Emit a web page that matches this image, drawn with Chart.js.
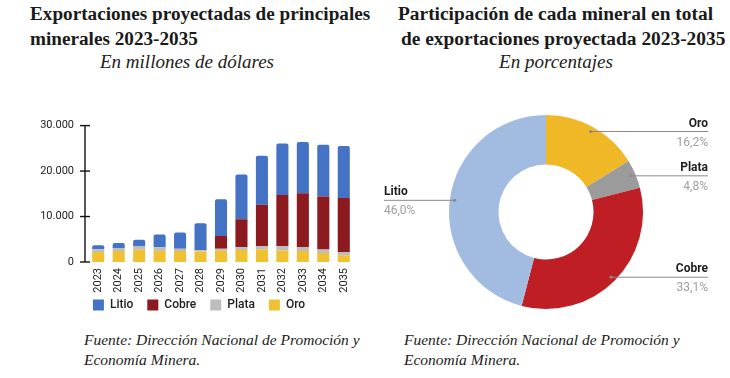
<!DOCTYPE html>
<html>
<head>
<meta charset="utf-8">
<script src="https://cdn.jsdelivr.net/npm/chart.js@4.4.1/dist/chart.umd.min.js"></script>
<style>
  html,body{margin:0;padding:0;background:#fff;}
  body{width:730px;height:378px;position:relative;overflow:hidden;}
  .t{position:absolute;white-space:nowrap;color:#1a1a1a;font-family:"Liberation Serif",serif;}
  .title{font-weight:bold;line-height:25px;}
  .sub{font-style:italic;font-size:19px;line-height:20px;color:#222;transform:translateX(-50%);}
  .foot{font-style:italic;font-size:15.5px;line-height:20px;color:#222;}
  #barWrap{position:absolute;left:0;top:105px;width:365px;height:220px;}
  #pieWrap{position:absolute;left:370px;top:90px;width:360px;height:240px;}
</style>
</head>
<body>
<div class="t title" style="left:30px;top:1px;font-size:19.2px;">Exportaciones proyectadas de principales<br>minerales 2023-2035</div>
<div class="t sub" style="left:187px;top:52px;">En millones de dólares</div>
<div class="t title" style="left:398px;top:1px;font-size:19.4px;">Participación de cada mineral en total</div>
<div class="t title" style="left:401px;top:26px;font-size:19.4px;">de exportaciones proyectada 2023-2035</div>
<div class="t sub" style="left:556px;top:52px;">En porcentajes</div>
<div class="t foot" style="left:84px;top:330px;">Fuente: Dirección Nacional de Promoción y<br>Economía Minera.</div>
<div class="t foot" style="left:404px;top:330px;">Fuente: Dirección Nacional de Promoción y<br>Economía Minera.</div>
<div id="barWrap"><canvas id="bar"></canvas></div>
<div id="pieWrap"><canvas id="pie"></canvas></div>
<script>
// ---- Data ----
const years = ['2023','2024','2025','2026','2027','2028','2029','2030','2031','2032','2033','2034','2035'];
const litio = [900,1100,1400,2800,3600,5900,8100,9850,10750,11300,11300,11400,11450];
const cobre = [0,0,0,0,0,0,2800,6150,9150,11250,11800,11650,11850];
const plata = [600,700,800,800,500,300,400,600,700,950,900,750,700];
const oro   = [2200,2400,2700,2450,2400,2300,2500,2650,2750,2550,2400,2000,1500];
const yTicks = [0,10000,20000,30000];

const shareLabels = ['Oro','Plata','Cobre','Litio'];
const shareValues = [16.2,4.8,33.1,46.0];

// ---- Styles ----
const barColors = {Litio:'#4472C4', Cobre:'#8C1A1E', Plata:'#BDBDBD', Oro:'#F0C232'};
const pieColors = ['#F0B726','#9B9B9B','#BF1E25','#A2BBE1'];

function fmtThousands(v){
  return String(v).replace(/\B(?=(\d{3})+(?!\d))/g,'.');
}
function noLabelClip(s){ s._computeLabelArea = function(){ return undefined; }; }

const axisPlugin = {
  id:'axisPlugin',
  afterDraw(chart){
    const y = chart.scales.y, ctx = chart.ctx;
    const x = chart.chartArea.left - 3;
    ctx.save();
    ctx.strokeStyle = '#111';
    ctx.lineWidth = 1.4;
    ctx.beginPath();
    ctx.moveTo(x, y.getPixelForValue(yTicks[yTicks.length-1]));
    ctx.lineTo(x, y.getPixelForValue(0));
    ctx.stroke();
    yTicks.forEach(v=>{
      const py = y.getPixelForValue(v);
      ctx.beginPath();
      ctx.moveTo(x-5, py);
      ctx.lineTo(x+5, py);
      ctx.stroke();
    });
    ctx.restore();
  }
};

new Chart(document.getElementById('bar'), {
  type:'bar',
  data:{
    labels: years,
    datasets:[
      {label:'Oro', data:oro, backgroundColor:barColors.Oro},
      {label:'Plata', data:plata, backgroundColor:barColors.Plata},
      {label:'Cobre', data:cobre, backgroundColor:barColors.Cobre},
      {label:'Litio', data:litio, backgroundColor:barColors.Litio, borderRadius:2}
    ]
  },
  options:{
    responsive:true, maintainAspectRatio:false, animation:false,
    layout:{padding:{left:44,right:11,top:20,bottom:4}},
    datasets:{bar:{categoryPercentage:1, barPercentage:0.59}},
    plugins:{
      legend:{
        position:'bottom', reverse:true,
        labels:{boxWidth:11, boxHeight:11, padding:14, color:'#222',
          font:{family:'Roboto', size:12, weight:'500'}}
      },
      tooltip:{enabled:false}
    },
    scales:{
      x:{stacked:true,
        afterFit(s){ s.height = 23; s.paddingLeft = 0; s.paddingRight = 0; noLabelClip(s); },
        grid:{display:false, drawTicks:false}, border:{display:false},
        ticks:{maxRotation:90, minRotation:90, padding:6, color:'#222',
          font:{family:'Roboto', size:11}}
      },
      y:{stacked:true, min:0, max:30000,
        afterBuildTicks(s){ s.ticks = yTicks.map(v=>({value:v})); },
        afterFit(s){ s.width = 44; noLabelClip(s); },
        grid:{display:false, drawTicks:false}, border:{display:false},
        ticks:{padding:14, color:'#222', font:{family:'Roboto', size:11},
          callback:(v)=>fmtThousands(v)}
      }
    }
  },
  plugins:[axisPlugin]
});

const pieLabelPlugin = {
  id:'pieLabels',
  afterDraw(chart){
    const ctx = chart.ctx;
    const meta = chart.getDatasetMeta(0);
    const ds = chart.data.datasets[0];
    meta.data.forEach((arc,i)=>{
      const p = arc.getProps(['x','y','startAngle','endAngle','outerRadius'],true);
      const a = (p.startAngle + p.endAngle)/2;
      const r = p.outerRadius*0.95;
      const dx = p.x + Math.cos(a)*r, dy = p.y + Math.sin(a)*r;
      const right = dx > p.x;
      const ex = right ? p.x + p.outerRadius + 65 : p.x - p.outerRadius - 65;
      ctx.save();
      ctx.strokeStyle = '#8a8a8a';
      ctx.fillStyle = '#8a8a8a';
      ctx.lineWidth = 1;
      ctx.beginPath(); ctx.moveTo(dx,dy); ctx.lineTo(ex,dy); ctx.stroke();
      ctx.beginPath(); ctx.arc(dx,dy,1.6,0,Math.PI*2); ctx.fill();
      ctx.textAlign = right ? 'right' : 'left';
      ctx.textBaseline = 'alphabetic';
      ctx.font = 'bold 12px Roboto';
      ctx.fillStyle = '#1e1e1e';
      ctx.fillText(chart.data.labels[i], ex, dy-5);
      ctx.font = '12px Roboto';
      ctx.fillStyle = '#9e9e9e';
      ctx.fillText(ds.data[i].toFixed(1).replace('.',',')+'%', ex, dy+14);
      ctx.restore();
    });
  }
};

new Chart(document.getElementById('pie'), {
  type:'doughnut',
  data:{
    labels: shareLabels,
    datasets:[{data:shareValues, backgroundColor:pieColors, borderWidth:0}]
  },
  options:{
    responsive:true, maintainAspectRatio:false, animation:false,
    cutout:'49%',
    layout:{padding:{left:0,right:8,top:25,bottom:21}},
    plugins:{legend:{display:false}, tooltip:{enabled:false}}
  },
  plugins:[pieLabelPlugin]
});
</script>
</body>
</html>
